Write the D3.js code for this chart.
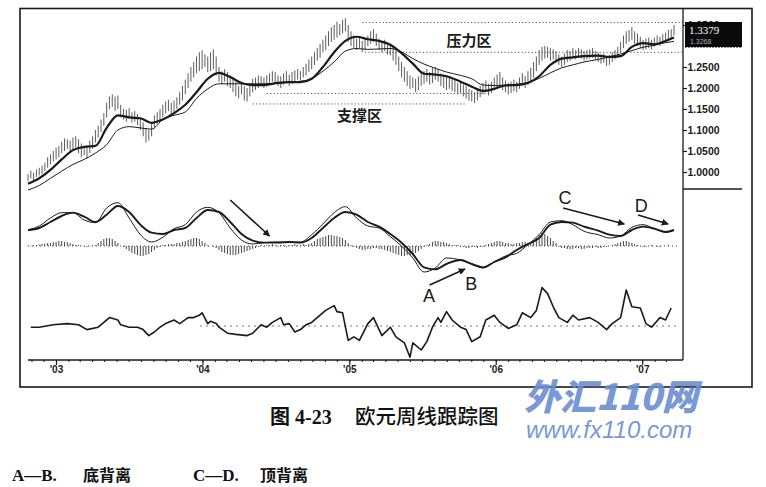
<!DOCTYPE html>
<html><head><meta charset="utf-8">
<script src="https://cdn.jsdelivr.net/npm/d3@7"></script>
<style>
html,body{margin:0;padding:0;background:#fff;}
svg{display:block;}
</style></head>
<body>
<script>
// ---------------- DATA ----------------
const firstWeek = new Date(2002, 9, 22);
const weekCount = 231;
const low = [0.978,0.985,0.980,0.988,0.992,0.995,1.002,1.010,1.018,1.025,
1.030,1.035,1.045,1.050,1.055,1.048,1.052,1.058,1.045,1.035,
1.040,1.032,1.045,1.055,1.070,1.082,1.095,1.110,1.130,1.150,
1.155,1.145,1.150,1.130,1.125,1.120,1.128,1.118,1.120,1.112,
1.100,1.085,1.070,1.075,1.085,1.105,1.115,1.125,1.130,1.140,
1.145,1.135,1.142,1.150,1.160,1.170,1.185,1.200,1.215,1.225,
1.235,1.240,1.245,1.250,1.238,1.240,1.245,1.230,1.215,1.210,
1.215,1.205,1.200,1.190,1.180,1.175,1.185,1.170,1.168,1.180,
1.190,1.195,1.200,1.205,1.200,1.203,
1.208,1.215,1.210,1.205,1.200,
1.208,1.212,1.205,1.210,1.215,1.220,1.218,1.225,1.230,1.238,
1.245,1.255,1.265,1.272,1.285,1.290,1.300,1.310,1.315,1.320,
1.325,1.330,1.335,1.310,1.300,1.295,1.290,1.295,1.285,1.290,
1.300,1.305,1.310,1.300,1.290,1.285,1.288,1.280,1.278,1.265,
1.255,1.240,1.225,1.215,1.205,1.198,1.200,1.190,1.195,1.205,
1.210,1.215,1.208,1.212,1.220,1.215,1.205,1.200,1.195,1.198,1.193,
1.190,1.185,1.188,1.180,1.175,1.170,1.168,1.164,1.170,1.178,
1.185,1.190,1.182,1.188,1.195,1.200,1.205,1.195,1.190,1.185,
1.188,1.192,1.190,1.198,1.205,1.200,1.208,1.215,1.225,1.240,
1.255,1.265,1.270,1.272,1.265,1.268,1.260,1.255,1.250,1.255,
1.262,1.265,1.270,1.268,1.272,1.270,1.265,1.268,1.270,
1.272,1.268,1.262,1.258,1.260,1.252,1.255,1.262,1.268,1.275,
1.285,1.295,1.305,1.310,1.315,1.305,1.300,1.295,1.290,1.292,
1.295,1.292,1.298,1.302,1.300,1.305,1.310,1.312,1.318,1.325];
const high = [0.995,1.003,0.998,1.006,1.010,1.015,1.022,1.035,1.042,1.050,
1.058,1.062,1.072,1.080,1.078,1.075,1.082,1.085,1.078,1.068,
1.062,1.060,1.075,1.085,1.100,1.110,1.125,1.140,1.165,1.180,
1.185,1.180,1.182,1.160,1.150,1.148,1.152,1.142,1.145,1.138,
1.130,1.118,1.105,1.100,1.115,1.135,1.142,1.150,1.160,1.168,
1.172,1.165,1.170,1.178,1.190,1.205,1.220,1.235,1.250,1.262,
1.275,1.285,1.290,1.280,1.275,1.285,1.292,1.275,1.250,1.240,
1.245,1.238,1.230,1.225,1.215,1.205,1.215,1.205,1.200,1.210,
1.222,1.225,1.230,1.228,1.225,1.230,
1.235,1.240,1.238,1.230,1.228,
1.235,1.240,1.232,1.238,1.242,1.245,1.240,1.250,1.258,1.268,
1.275,1.285,1.295,1.305,1.315,1.325,1.335,1.345,1.350,1.358,
1.352,1.362,1.366,1.350,1.335,1.325,1.318,1.322,1.312,1.315,
1.325,1.335,1.340,1.330,1.318,1.310,1.315,1.308,1.305,1.300,
1.290,1.275,1.262,1.250,1.240,1.230,1.225,1.222,1.228,1.235,
1.240,1.245,1.238,1.248,1.250,1.245,1.235,1.232,1.228,1.225,1.222,
1.220,1.212,1.215,1.208,1.205,1.198,1.195,1.190,1.195,1.205,
1.212,1.218,1.210,1.215,1.225,1.232,1.238,1.225,1.218,1.212,
1.215,1.220,1.215,1.225,1.235,1.228,1.240,1.248,1.262,1.275,
1.290,1.298,1.300,1.298,1.295,1.292,1.288,1.280,1.275,1.282,
1.290,1.288,1.295,1.290,1.295,1.292,1.288,1.290,1.292,
1.295,1.288,1.285,1.280,1.282,1.275,1.278,1.285,1.290,1.298,
1.310,1.325,1.335,1.338,1.345,1.335,1.330,1.322,1.315,1.318,
1.320,1.315,1.320,1.325,1.322,1.328,1.332,1.338,1.340,1.350];

// smooth lines, read every few weeks (week index into the weekly list)
const sampleWeek = [0,4,8,12,16,20,24,28,32,36,40,44,48,52,56,60,64,68,72,76,80,84,
89,93,97,101,105,109,113,117,121,125,129,133,137,141,145,149,
154,158,162,166,170,174,178,182,186,190,194,198,
203,207,211,215,219,223,227,230];
const maFast = [0.972,0.985,1.005,1.030,1.052,1.060,1.062,1.105,1.135,1.130,1.128,1.117,1.125,1.140,1.160,1.190,1.222,1.236,1.226,1.212,1.207,1.207,
1.212,1.214,1.214,1.222,1.250,1.285,1.312,1.322,1.316,1.312,1.303,1.283,1.258,1.234,1.232,1.228,
1.215,1.203,1.193,1.198,1.206,1.207,1.212,1.228,1.255,1.270,1.273,1.276,
1.277,1.274,1.276,1.298,1.307,1.304,1.312,1.320];
const maSlow = [0.957,0.968,0.985,1.002,1.018,1.030,1.045,1.065,1.100,1.108,1.105,1.102,1.125,1.135,1.143,1.175,1.198,1.210,1.210,1.210,1.210,1.210,
1.212,1.214,1.216,1.222,1.240,1.262,1.288,1.294,1.292,1.293,1.294,1.286,1.270,1.257,1.247,1.238,
1.230,1.222,1.207,1.206,1.207,1.209,1.213,1.223,1.236,1.248,1.255,1.262,
1.268,1.274,1.281,1.289,1.297,1.302,1.308,1.311];
const macdLine = [0.023,0.029,0.041,0.049,0.049,0.038,0.034,0.056,0.064,0.041,0.016,0.005,0.012,0.025,0.031,0.050,0.057,0.049,0.026,0.008,0.002,0.004,
0.005,0.005,0.005,0.016,0.032,0.049,0.058,0.041,0.029,0.026,0.013,-0.001,-0.019,-0.040,-0.034,-0.019,
-0.022,-0.028,-0.034,-0.025,-0.016,-0.012,0.001,0.016,0.035,0.037,0.031,0.021,
0.016,0.011,0.014,0.027,0.031,0.025,0.020,0.023];
const signalLine = [0.023,0.026,0.035,0.044,0.049,0.043,0.035,0.046,0.059,0.050,0.031,0.019,0.017,0.023,0.026,0.041,0.053,0.050,0.035,0.017,0.007,0.004,
0.004,0.005,0.004,0.011,0.026,0.041,0.050,0.046,0.035,0.028,0.017,0.004,-0.013,-0.033,-0.036,-0.028,
-0.022,-0.028,-0.033,-0.025,-0.018,-0.007,0.002,0.011,0.031,0.035,0.034,0.028,
0.022,0.016,0.014,0.023,0.028,0.025,0.020,0.023];
// MACD histogram, one bar per week (units of 0.001)
const macdHist = [0.5,0.5,1,1,1.5,2,2.5,3,
3,4,4,5,5,4,4,3,2,1,1,
0.5,-0.5,-1,-0.5,0.5,1,
3,5,7,8,8,7,5,3,
0,-1,-3,-5,-7,-8,-9,-10,-10,-9,-8,-6,-4,-2,-1,
1,1,2,2,2,3,3,
4,5,6,7,8,8,7,5,3,
1,0,-1,
-2,-4,-6,-7,-8,-9,-9,-9,-8,-7,-6,-5,-4,-3,-2,-1,
1,-1,1,
1,2,1,-1,1,1,-1,1,1,2,1,1,2,1,2,
3,5,7,8,9,10,11,11,10,10,9,8,6,
3,1,-1,-2,
-3,-4,-4,-3,-3,-2,-2,-3,
-3,-4,-5,-6,-7,-8,-9,-10,-10,-9,-9,-8,-7,-5,-3,-1,
1,2,4,5,5,4,4,3,2,1,1,1,
-1,-1,-2,-2,-1,-1,-2,-1,-1,
1,2,3,4,5,5,4,3,3,2,
2,3,3,4,4,3,3,
5,8,11,13,12,10,8,5,3,
-1,-2,-2,-3,-3,-3,-2,-2,-3,-3,-2,-2,
-2,-1,-2,-2,-1,-1,0,1,
2,3,4,5,5,4,3,2,1,
0,-1,-1,0,1,0,-1,-1,0,0,1,0,0];
// lower oscillator (week index, value)
const oscWeek = [1,4,9,14,18,21,25,27,29,32,33,36,39,41,43,45,47,49,52,54,57,59,61,62,64,65,67,68,71,74,78,80,83,85,87,90,91,93,95,97,99,101,104,106,109,110,112,114,116,118,121,123,125,126,129,131,134,136,137,140,142,144,146,147,149,151,154,156,158,161,163,166,168,171,174,176,179,181,183,185,187,189,192,194,196,200,203,206,208,211,213,215,218,220,222,225,227,229];
const oscValue = [49,49,51,52,51,47,49,53,57,55,51,49,49,47,42,45,49,52,55,52,57,57,59,61,52,54,52,49,44,43,42,44,51,49,53,57,51,52,45,47,51,53,59,63,67,62,61,38,41,38,52,57,47,42,49,41,36,24,36,30,37,49,57,53,62,55,49,47,37,41,55,59,53,48,51,61,57,63,82,77,66,57,53,59,55,57,53,47,52,57,80,66,65,52,49,57,55,65];

const priceTicks = [1.00,1.05,1.10,1.15,1.20,1.25,1.35];
const lastQuote = ["1.3379","1.3268"];
const zones = [
  {level:1.356, from:119, to:230},
  {level:1.285, from:120, to:230},
  {level:1.187, from:85, to:161},
  {level:1.162, from:80, to:152}
];
const zoneLabels = [{text:"压力区", week:157, price:1.300},{text:"支撑区", week:118, price:1.121}];
const arrows = [
  {w1:72, m1:0.068, w2:86, m2:0.014},
  {w1:143, m1:-0.0596, w2:155.6, m2:-0.0356},
  {w1:190.5, m1:0.056, w2:212.3, m2:0.032},
  {w1:217.2, m1:0.0455, w2:227.9, m2:0.032}
];
const letters = [{t:"C",w:191.2,m:0.062},{t:"D",w:218.3,m:0.050},{t:"A",w:142.8,m:-0.085},{t:"B",w:157.8,m:-0.067}];

// ---------------- CHART ----------------
const W = 766, H = 487;
const svg = d3.select("body").append("svg").attr("width", W).attr("height", H);
svg.append("rect").attr("width", W).attr("height", H).attr("fill", "#fff");

const dates = d3.range(weekCount).map(i => d3.timeDay.offset(firstWeek, 7 * i));
const x = d3.scaleTime().domain([dates[0], dates[weekCount - 1]]).range([28, 674]);
const xw = w => x(new Date(firstWeek.getTime() + w * 7 * 864e5));
const py = d3.scaleLinear().domain([1.0, 1.25]).range([172, 67]);
const my = d3.scaleLinear().domain([-0.04, 0.065]).range([272, 202]);
const hy = d3.scaleLinear().domain([-10, 13]).range([256, 233]);
const ry = d3.scaleLinear().domain([20, 80]).range([362, 290]);

const ink = "#1a1a1a";

// frame
svg.append("rect").attr("x", 20).attr("y", 8.5).attr("width", 732).attr("height", 378.5)
  .attr("fill", "none").attr("stroke", ink).attr("stroke-width", 1.6);
svg.append("line").attr("x1", 683).attr("x2", 683).attr("y1", 8).attr("y2", 360).attr("stroke", ink).attr("stroke-width", 1.3);
svg.append("line").attr("x1", 683).attr("x2", 742).attr("y1", 189).attr("y2", 189).attr("stroke", ink).attr("stroke-width", 1.3);

// support / resistance zones
svg.append("g").selectAll("line").data(zones).join("line")
  .attr("x1", d => xw(d.from)).attr("x2", d => Math.min(683, xw(d.to) + 10))
  .attr("y1", d => py(d.level)).attr("y2", d => py(d.level))
  .attr("stroke", "#555").attr("stroke-width", 1).attr("stroke-dasharray", "1.2,2.2");

// price bars
svg.append("g").selectAll("line").data(dates).join("line")
  .attr("x1", (d, i) => x(d)).attr("x2", (d, i) => x(d))
  .attr("y1", (d, i) => py(low[i])).attr("y2", (d, i) => py(high[i]))
  .attr("stroke", "#4a4a4a").attr("stroke-width", 0.9);

const sampled = arr => arr.map((v, k) => [xw(sampleWeek[k]), v]);
const lp = yS => d3.line().x(d => d[0]).y(d => yS(d[1])).curve(d3.curveMonotoneX);
svg.append("path").attr("d", lp(py)(sampled(maSlow))).attr("fill", "none").attr("stroke", ink).attr("stroke-width", 1);
svg.append("path").attr("d", lp(py)(sampled(maFast))).attr("fill", "none").attr("stroke", ink).attr("stroke-width", 2.2);

// right price axis
const ay = svg.append("g").attr("transform", "translate(683,0)")
  .call(d3.axisRight(py).tickValues(priceTicks).tickFormat(d3.format(".4f")).tickSizeInner(4).tickSizeOuter(0));
ay.select(".domain").remove();
ay.selectAll("line").attr("stroke", ink).attr("stroke-width", 1.2);
ay.selectAll("text").attr("x", 4.5).attr("fill", ink)
  .style("font-family", "'Liberation Sans', Arial, sans-serif").style("font-size", "10.5px").style("font-weight", "bold");

// last-quote box (drawn over the top tick label, as in the original)
svg.append("rect").attr("x", 685).attr("y", 22).attr("width", 57).attr("height", 25).attr("fill", "#0a0a0a");
svg.append("line").attr("x1", 685).attr("x2", 742).attr("y1", 47.5).attr("y2", 47.5).attr("stroke", "#888").attr("stroke-dasharray", "2,1");
svg.append("text").attr("x", 689).attr("y", 34).text(lastQuote[0]).attr("fill", "#fff")
  .style("font-family", "'Liberation Serif', serif").style("font-size", "11px");
svg.append("text").attr("x", 690).attr("y", 43.5).text(lastQuote[1]).attr("fill", "#ddd").attr("opacity", 0.75)
  .style("font-family", "'Liberation Sans', sans-serif").style("font-size", "7px");

// zone labels
svg.append("g").selectAll("text").data(zoneLabels).join("text")
  .attr("x", d => xw(d.week)).attr("y", d => py(d.price)).attr("text-anchor", "middle").text(d => d.text)
  .attr("fill", ink).style("font-family", "'Noto Sans CJK SC', sans-serif").style("font-size", "15px").style("font-weight", "bold");

// MACD panel
svg.append("line").attr("x1", 28).attr("x2", 680).attr("y1", hy(0)).attr("y2", hy(0))
  .attr("stroke", "#444").attr("stroke-width", 1).attr("stroke-dasharray", "1,3");
svg.append("g").selectAll("line").data(dates).join("line")
  .attr("x1", d => x(d)).attr("x2", d => x(d))
  .attr("y1", hy(0)).attr("y2", (d, i) => hy(macdHist[i]))
  .attr("stroke", "#333").attr("stroke-width", 0.9);
svg.append("path").attr("d", lp(my)(sampled(macdLine))).attr("fill", "none").attr("stroke", ink).attr("stroke-width", 1);
svg.append("path").attr("d", lp(my)(sampled(signalLine))).attr("fill", "none").attr("stroke", ink).attr("stroke-width", 1.9);

// arrows
const defs = svg.append("defs");
defs.append("marker").attr("id", "ah").attr("viewBox", "0 0 10 10").attr("refX", 9).attr("refY", 5)
  .attr("markerWidth", 7).attr("markerHeight", 7).attr("markerUnits", "userSpaceOnUse").attr("orient", "auto")
  .append("path").attr("d", "M0,0 L10,5 L0,10 z").attr("fill", ink);
svg.append("g").selectAll("line").data(arrows).join("line")
  .attr("x1", d => xw(d.w1)).attr("y1", d => my(d.m1)).attr("x2", d => xw(d.w2)).attr("y2", d => my(d.m2))
  .attr("stroke", ink).attr("stroke-width", 1.6).attr("marker-end", "url(#ah)");
svg.append("g").selectAll("text").data(letters).join("text")
  .attr("x", d => xw(d.w)).attr("y", d => my(d.m)).attr("text-anchor", "middle").text(d => d.t)
  .attr("fill", ink).style("font-family", "'Liberation Sans', Arial, sans-serif").style("font-size", "18px");

// oscillator panel
svg.append("line").attr("x1", 200).attr("x2", 680).attr("y1", ry(50)).attr("y2", ry(50))
  .attr("stroke", "#777").attr("stroke-width", 1).attr("stroke-dasharray", "2,4");
svg.append("path").attr("d", d3.line().x(d => xw(d[0])).y(d => ry(d[1]))(oscWeek.map((w, k) => [w, oscValue[k]])))
  .attr("fill", "none").attr("stroke", ink).attr("stroke-width", 1.6).attr("stroke-linejoin", "round");

// time axis
const ax = svg.append("g").attr("transform", "translate(0,360)");
ax.append("line").attr("x1", 28).attr("x2", 683).attr("stroke", ink).attr("stroke-width", 1.6);
ax.selectAll("line.m").data(x.ticks(d3.timeMonth.every(1))).join("line").attr("class", "m")
  .attr("x1", d => x(d)).attr("x2", d => x(d)).attr("y1", 0).attr("y2", 2).attr("stroke", ink);
const years = x.ticks(d3.timeYear.every(1));
ax.selectAll("line.y").data(years).join("line").attr("class", "y")
  .attr("x1", d => x(d)).attr("x2", d => x(d)).attr("y1", 0).attr("y2", 5).attr("stroke", ink).attr("stroke-width", 1.2);
ax.selectAll("text").data(years).join("text")
  .attr("x", d => x(d)).attr("y", 13).attr("text-anchor", "middle").text(d => "'" + d3.timeFormat("%y")(d))
  .attr("fill", ink).style("font-family", "'Liberation Sans', Arial, sans-serif").style("font-size", "10px").style("font-weight", "bold");

// watermark
svg.append("text").attr("x", 524).attr("y", 410).text("外汇110网").attr("fill", "#6a8ed2").attr("opacity", 0.9)
  .style("font-family", "'Noto Sans CJK SC', sans-serif").style("font-size", "36px").style("font-weight", "900").style("font-style", "italic");
svg.append("text").attr("x", 526).attr("y", 438).text("www.fx110.com").attr("fill", "#6a8ed2").attr("opacity", 0.9)
  .style("font-family", "'Liberation Sans', Arial, sans-serif").style("font-size", "24px").style("font-style", "italic");

// caption & notes
const capFont = "'Liberation Serif', 'Noto Sans CJK SC', serif";
svg.append("text").attr("x", 270).attr("y", 424).text("图 4-23").attr("fill", "#111")
  .style("font-family", capFont).style("font-size", "20px").style("font-weight", "bold");
svg.append("text").attr("x", 355).attr("y", 424).text("欧元周线跟踪图").attr("fill", "#111")
  .style("font-family", "'Noto Sans CJK SC', sans-serif").style("font-size", "20.5px").style("font-weight", "500");
svg.append("text").attr("x", 12).attr("y", 481).text("A—B.").attr("fill", "#111")
  .style("font-family", capFont).style("font-size", "17px").style("font-weight", "bold");
svg.append("text").attr("x", 83).attr("y", 481).text("底背离").attr("fill", "#111")
  .style("font-family", "'Noto Sans CJK SC', sans-serif").style("font-size", "16px").style("font-weight", "bold");
svg.append("text").attr("x", 193).attr("y", 481).text("C—D.").attr("fill", "#111")
  .style("font-family", capFont).style("font-size", "17px").style("font-weight", "bold");
svg.append("text").attr("x", 260).attr("y", 481).text("顶背离").attr("fill", "#111")
  .style("font-family", "'Noto Sans CJK SC', sans-serif").style("font-size", "16px").style("font-weight", "bold");
</script>
</body></html>
